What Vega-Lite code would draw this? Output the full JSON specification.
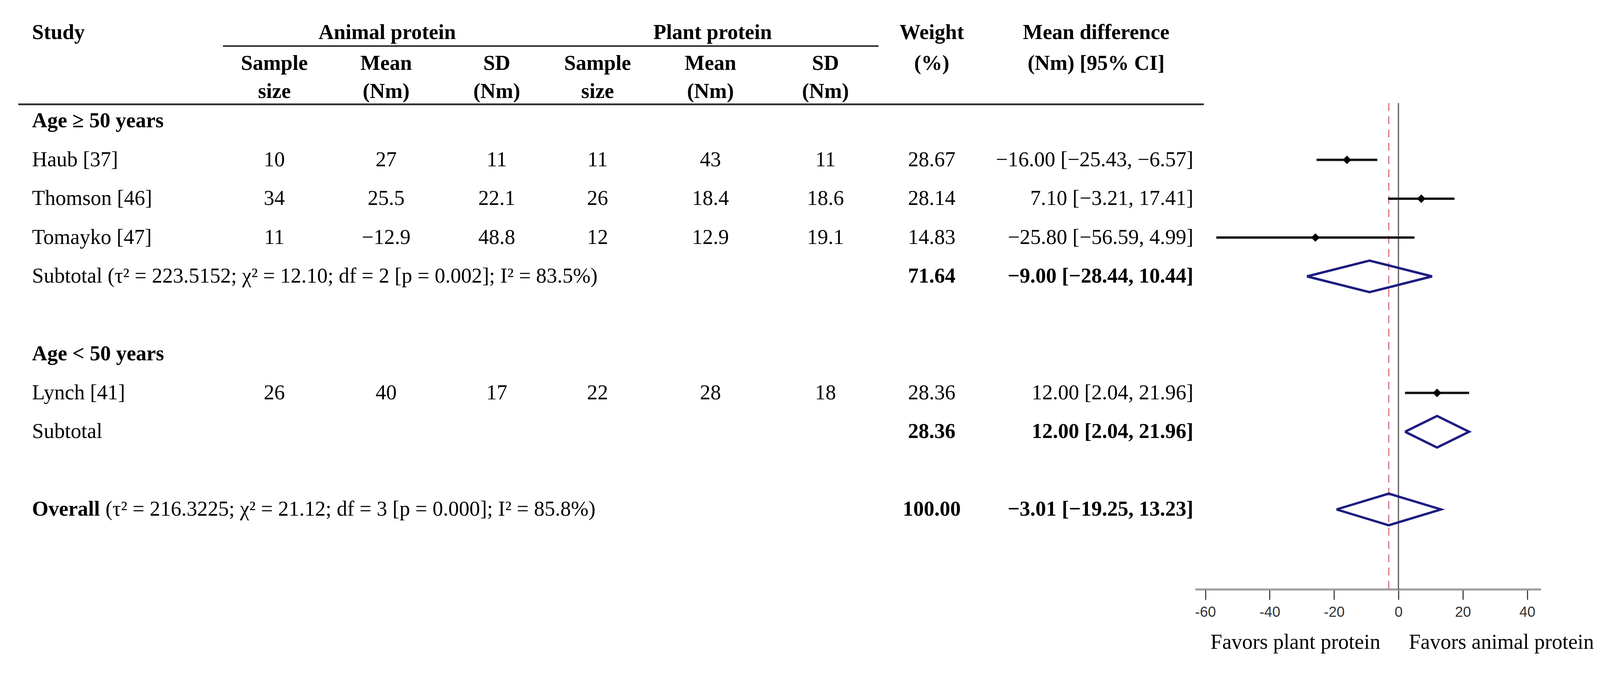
{
"$schema": "https://vega.github.io/schema/vega-lite/v6.json",
"width": 4102,
"height": 1510,
"autosize": {"type": "none"},
"padding": {"left": 0, "top": 0, "right": 0, "bottom": 214},
"background": "#ffffff",
"config": {"view": {"stroke": null}, "text": {"font": "Liberation Serif", "fontSize": 54, "color": "#000000", "baseline": "middle"}},
"data": {"values": [{}]},
"datasets": {
"studies": [
{"row": 0, "kind": "group", "label": "Age ≥ 50 years"},
{"row": 1, "kind": "study", "label": "Haub [37]", "a_n": "10", "a_mean": "27", "a_sd": "11", "p_n": "11", "p_mean": "43", "p_sd": "11", "weight": "28.67", "md": -16.00, "lo": -25.43, "hi": -6.57, "ci": "−16.00 [−25.43, −6.57]"},
{"row": 2, "kind": "study", "label": "Thomson [46]", "a_n": "34", "a_mean": "25.5", "a_sd": "22.1", "p_n": "26", "p_mean": "18.4", "p_sd": "18.6", "weight": "28.14", "md": 7.10, "lo": -3.21, "hi": 17.41, "ci": "7.10 [−3.21, 17.41]"},
{"row": 3, "kind": "study", "label": "Tomayko [47]", "a_n": "11", "a_mean": "−12.9", "a_sd": "48.8", "p_n": "12", "p_mean": "12.9", "p_sd": "19.1", "weight": "14.83", "md": -25.80, "lo": -56.59, "hi": 4.99, "ci": "−25.80 [−56.59, 4.99]"},
{"row": 4, "kind": "subtotal", "label": "Subtotal (τ² = 223.5152; χ² = 12.10; df = 2 [p = 0.002]; I² = 83.5%)", "weight": "71.64", "md": -9.00, "lo": -28.44, "hi": 10.44, "ci": "−9.00 [−28.44, 10.44]"},
{"row": 6, "kind": "group", "label": "Age < 50 years"},
{"row": 7, "kind": "study", "label": "Lynch [41]", "a_n": "26", "a_mean": "40", "a_sd": "17", "p_n": "22", "p_mean": "28", "p_sd": "18", "weight": "28.36", "md": 12.00, "lo": 2.04, "hi": 21.96, "ci": "12.00 [2.04, 21.96]"},
{"row": 8, "kind": "subtotal", "label": "Subtotal", "weight": "28.36", "md": 12.00, "lo": 2.04, "hi": 21.96, "ci": "12.00 [2.04, 21.96]"},
{"row": 10, "kind": "overall", "label": "Overall", "rest": "(τ² = 216.3225; χ² = 21.12; df = 3 [p = 0.000]; I² = 85.8%)", "weight": "100.00", "md": -3.01, "lo": -19.25, "hi": 13.23, "ci": "−3.01 [−19.25, 13.23]"}
],
"diamonds": [
{"group": "sub1", "order": 1, "x": -28.44, "row": 4},
{"group": "sub1", "order": 2, "x": -9.00, "row": 3.593},
{"group": "sub1", "order": 3, "x": 10.44, "row": 4},
{"group": "sub1", "order": 4, "x": -9.00, "row": 4.407},
{"group": "sub1", "order": 5, "x": -28.44, "row": 4},
{"group": "sub2", "order": 1, "x": 2.04, "row": 8},
{"group": "sub2", "order": 2, "x": 12.00, "row": 7.593},
{"group": "sub2", "order": 3, "x": 21.96, "row": 8},
{"group": "sub2", "order": 4, "x": 12.00, "row": 8.407},
{"group": "sub2", "order": 5, "x": 2.04, "row": 8},
{"group": "overall", "order": 1, "x": -19.25, "row": 10},
{"group": "overall", "order": 2, "x": -3.01, "row": 9.593},
{"group": "overall", "order": 3, "x": 13.23, "row": 10},
{"group": "overall", "order": 4, "x": -3.01, "row": 10.407},
{"group": "overall", "order": 5, "x": -19.25, "row": 10}
]
},
"resolve": {"scale": {"x": "independent"}},
"layer": [
{
"layer": [
{"mark": {"type": "rule", "strokeWidth": 4.5, "color": "#2b2b2b"}, "encoding": {"x": {"datum": -1.337, "scale": {"domain": [-1.504, 13.12], "nice": false, "zero": false}, "axis": null}, "x2": {"datum": 9.483}, "y": {"datum": -0.43, "scale": {"domain": [-3.1156, 12.0603], "reverse": true, "nice": false, "zero": false}, "axis": null}}},
{"mark": {"type": "rule", "strokeWidth": 4, "color": "#2b2b2b"}, "encoding": {"x": {"datum": 0.531, "scale": {"domain": [-1.504, 13.12], "nice": false, "zero": false}, "axis": null}, "x2": {"datum": 6.514}, "y": {"datum": -1.93, "scale": {"domain": [-3.1156, 12.0603], "reverse": true, "nice": false, "zero": false}, "axis": null}}},
{"mark": {"type": "text", "fontWeight": "bold", "align": "left"}, "encoding": {"x": {"datum": -1.212, "axis": null}, "y": {"datum": -2.27, "axis": null}, "text": {"value": "Study"}}},
{"mark": {"type": "text", "fontWeight": "bold", "align": "center"}, "encoding": {"x": {"datum": 2.03, "axis": null}, "y": {"datum": -2.27, "axis": null}, "text": {"value": "Animal protein"}}},
{"mark": {"type": "text", "fontWeight": "bold", "align": "center"}, "encoding": {"x": {"datum": 5.0, "axis": null}, "y": {"datum": -2.27, "axis": null}, "text": {"value": "Plant protein"}}},
{"mark": {"type": "text", "fontWeight": "bold", "align": "center"}, "encoding": {"x": {"datum": 7.0, "axis": null}, "y": {"datum": -2.27, "axis": null}, "text": {"value": "Weight"}}},
{"mark": {"type": "text", "fontWeight": "bold", "align": "center"}, "encoding": {"x": {"datum": 8.5, "axis": null}, "y": {"datum": -2.27, "axis": null}, "text": {"value": "Mean difference"}}},
{"mark": {"type": "text", "fontWeight": "bold", "align": "center"}, "encoding": {"x": {"datum": 7.0, "axis": null}, "y": {"datum": -1.48, "axis": null}, "text": {"value": "(%)"}}},
{"mark": {"type": "text", "fontWeight": "bold", "align": "center"}, "encoding": {"x": {"datum": 8.5, "axis": null}, "y": {"datum": -1.48, "axis": null}, "text": {"value": "(Nm) [95% CI]"}}},
{"mark": {"type": "text", "fontWeight": "bold", "align": "center"}, "encoding": {"x": {"datum": 1.0, "axis": null}, "y": {"datum": -1.48, "axis": null}, "text": {"value": "Sample"}}},
{"mark": {"type": "text", "fontWeight": "bold", "align": "center"}, "encoding": {"x": {"datum": 1.0, "axis": null}, "y": {"datum": -0.75, "axis": null}, "text": {"value": "size"}}},
{"mark": {"type": "text", "fontWeight": "bold", "align": "center"}, "encoding": {"x": {"datum": 2.02, "axis": null}, "y": {"datum": -1.48, "axis": null}, "text": {"value": "Mean"}}},
{"mark": {"type": "text", "fontWeight": "bold", "align": "center"}, "encoding": {"x": {"datum": 2.02, "axis": null}, "y": {"datum": -0.75, "axis": null}, "text": {"value": "(Nm)"}}},
{"mark": {"type": "text", "fontWeight": "bold", "align": "center"}, "encoding": {"x": {"datum": 3.03, "axis": null}, "y": {"datum": -1.48, "axis": null}, "text": {"value": "SD"}}},
{"mark": {"type": "text", "fontWeight": "bold", "align": "center"}, "encoding": {"x": {"datum": 3.03, "axis": null}, "y": {"datum": -0.75, "axis": null}, "text": {"value": "(Nm)"}}},
{"mark": {"type": "text", "fontWeight": "bold", "align": "center"}, "encoding": {"x": {"datum": 3.95, "axis": null}, "y": {"datum": -1.48, "axis": null}, "text": {"value": "Sample"}}},
{"mark": {"type": "text", "fontWeight": "bold", "align": "center"}, "encoding": {"x": {"datum": 3.95, "axis": null}, "y": {"datum": -0.75, "axis": null}, "text": {"value": "size"}}},
{"mark": {"type": "text", "fontWeight": "bold", "align": "center"}, "encoding": {"x": {"datum": 4.98, "axis": null}, "y": {"datum": -1.48, "axis": null}, "text": {"value": "Mean"}}},
{"mark": {"type": "text", "fontWeight": "bold", "align": "center"}, "encoding": {"x": {"datum": 4.98, "axis": null}, "y": {"datum": -0.75, "axis": null}, "text": {"value": "(Nm)"}}},
{"mark": {"type": "text", "fontWeight": "bold", "align": "center"}, "encoding": {"x": {"datum": 6.03, "axis": null}, "y": {"datum": -1.48, "axis": null}, "text": {"value": "SD"}}},
{"mark": {"type": "text", "fontWeight": "bold", "align": "center"}, "encoding": {"x": {"datum": 6.03, "axis": null}, "y": {"datum": -0.75, "axis": null}, "text": {"value": "(Nm)"}}},
{"data": {"name": "studies"}, "transform": [{"filter": "datum.kind == 'study' || datum.kind == 'subtotal'"}], "mark": {"type": "text", "align": "left"}, "encoding": {"x": {"datum": -1.212, "axis": null}, "y": {"field": "row", "type": "quantitative", "axis": null}, "text": {"field": "label", "type": "nominal"}}},
{"data": {"name": "studies"}, "transform": [{"filter": "datum.kind == 'group' || datum.kind == 'overall'"}], "mark": {"type": "text", "align": "left", "fontWeight": "bold"}, "encoding": {"x": {"datum": -1.212, "axis": null}, "y": {"field": "row", "type": "quantitative", "axis": null}, "text": {"field": "label", "type": "nominal"}}},
{"data": {"name": "studies"}, "transform": [{"filter": "datum.kind == 'overall'"}], "mark": {"type": "text", "align": "left"}, "encoding": {"x": {"datum": -0.5415, "axis": null}, "y": {"field": "row", "type": "quantitative", "axis": null}, "text": {"field": "rest", "type": "nominal"}}},
{"data": {"name": "studies"}, "transform": [{"filter": "datum.kind == 'study'"}], "mark": {"type": "text", "align": "center"}, "encoding": {"x": {"datum": 1.0, "axis": null}, "y": {"field": "row", "type": "quantitative", "axis": null}, "text": {"field": "a_n", "type": "nominal"}}},
{"data": {"name": "studies"}, "transform": [{"filter": "datum.kind == 'study'"}], "mark": {"type": "text", "align": "center"}, "encoding": {"x": {"datum": 2.02, "axis": null}, "y": {"field": "row", "type": "quantitative", "axis": null}, "text": {"field": "a_mean", "type": "nominal"}}},
{"data": {"name": "studies"}, "transform": [{"filter": "datum.kind == 'study'"}], "mark": {"type": "text", "align": "center"}, "encoding": {"x": {"datum": 3.03, "axis": null}, "y": {"field": "row", "type": "quantitative", "axis": null}, "text": {"field": "a_sd", "type": "nominal"}}},
{"data": {"name": "studies"}, "transform": [{"filter": "datum.kind == 'study'"}], "mark": {"type": "text", "align": "center"}, "encoding": {"x": {"datum": 3.95, "axis": null}, "y": {"field": "row", "type": "quantitative", "axis": null}, "text": {"field": "p_n", "type": "nominal"}}},
{"data": {"name": "studies"}, "transform": [{"filter": "datum.kind == 'study'"}], "mark": {"type": "text", "align": "center"}, "encoding": {"x": {"datum": 4.98, "axis": null}, "y": {"field": "row", "type": "quantitative", "axis": null}, "text": {"field": "p_mean", "type": "nominal"}}},
{"data": {"name": "studies"}, "transform": [{"filter": "datum.kind == 'study'"}], "mark": {"type": "text", "align": "center"}, "encoding": {"x": {"datum": 6.03, "axis": null}, "y": {"field": "row", "type": "quantitative", "axis": null}, "text": {"field": "p_sd", "type": "nominal"}}},
{"data": {"name": "studies"}, "transform": [{"filter": "datum.kind == 'study'"}], "mark": {"type": "text", "align": "center"}, "encoding": {"x": {"datum": 7.0, "axis": null}, "y": {"field": "row", "type": "quantitative", "axis": null}, "text": {"field": "weight", "type": "nominal"}}},
{"data": {"name": "studies"}, "transform": [{"filter": "datum.kind == 'subtotal' || datum.kind == 'overall'"}], "mark": {"type": "text", "align": "center", "fontWeight": "bold"}, "encoding": {"x": {"datum": 7.0, "axis": null}, "y": {"field": "row", "type": "quantitative", "axis": null}, "text": {"field": "weight", "type": "nominal"}}},
{"data": {"name": "studies"}, "transform": [{"filter": "datum.kind == 'study'"}], "mark": {"type": "text", "align": "right"}, "encoding": {"x": {"datum": 9.387, "axis": null}, "y": {"field": "row", "type": "quantitative", "axis": null}, "text": {"field": "ci", "type": "nominal"}}},
{"data": {"name": "studies"}, "transform": [{"filter": "datum.kind == 'subtotal' || datum.kind == 'overall'"}], "mark": {"type": "text", "align": "right", "fontWeight": "bold"}, "encoding": {"x": {"datum": 9.387, "axis": null}, "y": {"field": "row", "type": "quantitative", "axis": null}, "text": {"field": "ci", "type": "nominal"}}}
]
},
{
"layer": [
{"mark": {"type": "rule", "strokeWidth": 5, "color": "#9a9a9a"}, "encoding": {"x": {"datum": -63.1, "title": null, "scale": {"domain": [-434.47, 63.35], "nice": false, "zero": false}}, "x2": {"datum": 44.3}, "y": {"datum": 12.0603, "axis": null}}},
{"mark": {"type": "rule", "strokeWidth": 3, "color": "#555555"}, "encoding": {"x": {"datum": 0, "title": null}, "y": {"datum": -0.462, "axis": null}, "y2": {"datum": 12.0603}}},
{"mark": {"type": "rule", "strokeWidth": 3, "color": "#d9707e", "strokeDash": [20, 14]}, "encoding": {"x": {"datum": -3.01, "title": null}, "y": {"datum": -0.462, "axis": null}, "y2": {"datum": 12.0603}}},
{"data": {"name": "studies"}, "transform": [{"filter": "datum.kind == 'study'"}], "mark": {"type": "rule", "strokeWidth": 6, "color": "#111111"}, "encoding": {"x": {"field": "lo", "type": "quantitative", "title": null, "axis": {"orient": "bottom", "values": [-60, -40, -20, 0, 20, 40], "domain": false, "grid": false, "ticks": true, "tickSize": 26, "tickWidth": 3, "tickColor": "#444444", "labelFont": "Liberation Sans", "labelFontSize": 37, "labelColor": "#333333", "labelPadding": 14, "labelExpr": "replace(datum.label, '−', '-')", "title": null}}, "x2": {"field": "hi"}, "y": {"field": "row", "type": "quantitative", "axis": null}}},
{"data": {"name": "studies"}, "transform": [{"filter": "datum.kind == 'study'"}], "mark": {"type": "point", "shape": "diamond", "filled": true, "size": 480, "color": "#000000", "opacity": 1}, "encoding": {"x": {"field": "md", "type": "quantitative", "title": null}, "y": {"field": "row", "type": "quantitative", "axis": null}}},
{"data": {"name": "diamonds"}, "mark": {"type": "line", "strokeWidth": 6, "color": "#1c1c80"}, "encoding": {"x": {"field": "x", "type": "quantitative", "title": null}, "y": {"field": "row", "type": "quantitative", "axis": null}, "detail": {"field": "group", "type": "nominal"}, "order": {"field": "order", "type": "quantitative"}}},
{"mark": {"type": "text", "align": "center"}, "encoding": {"x": {"datum": -32, "title": null}, "y": {"datum": 13.427, "axis": null}, "text": {"value": "Favors plant protein"}}},
{"mark": {"type": "text", "align": "center"}, "encoding": {"x": {"datum": 32, "title": null}, "y": {"datum": 13.427, "axis": null}, "text": {"value": "Favors animal protein"}}}
]
}
]
}
